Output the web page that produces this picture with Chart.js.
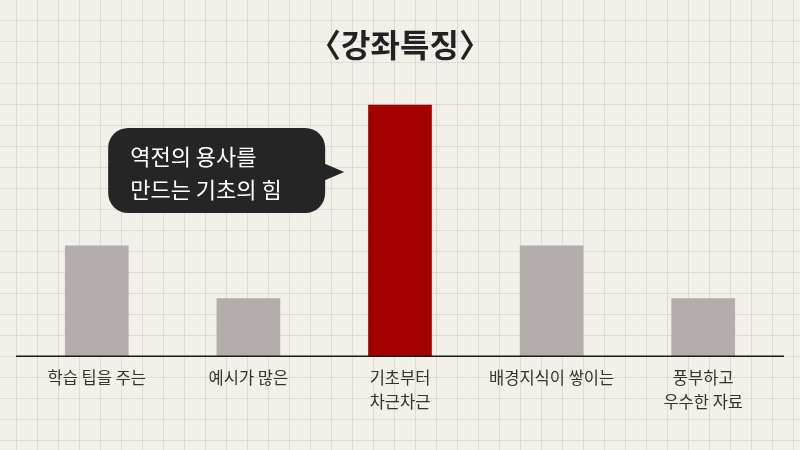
<!DOCTYPE html>
<html>
<head>
<meta charset="utf-8">
<script src="https://cdn.jsdelivr.net/npm/chart.js@4/dist/chart.umd.min.js"></script>
<style>
  html, body { margin: 0; padding: 0; background: #f3efe9; }
  #wrap { width: 800px; height: 450px; }
</style>
</head>
<body>
<div id="wrap"><canvas id="chart" width="800" height="450"></canvas></div>
<script>
// Data
const categories = [['학습 팁을 주는'], ['예시가 많은'], ['기초부터', '차근차근'], ['배경지식이 쌓이는'], ['풍부하고', '우수한 자료']];
const scores = [44, 23, 100, 44, 23];
const highlightIndex = 2;
const calloutLines = ['역전의 용사를', '만드는 기초의 힘'];

const FONT = '"Noto Sans CJK KR", "Noto Sans", sans-serif';

// Graph paper background + baseline
const paperPlugin = {
  id: 'paper',
  beforeDraw(chart) {
    const ctx = chart.ctx;
    const w = chart.width, h = chart.height;
    ctx.save();
    ctx.fillStyle = '#f3efe9';
    ctx.fillRect(0, 0, w, h);
    ctx.strokeStyle = '#e0dad4';
    ctx.lineWidth = 1;
    ctx.beginPath();
    for (let x = 16; x < w; x += 21) {
      ctx.moveTo(x + 0.5, 0);
      ctx.lineTo(x + 0.5, h);
    }
    for (let y = 20; y < h; y += 21) {
      ctx.moveTo(0, y + 0.5);
      ctx.lineTo(w, y + 0.5);
    }
    ctx.stroke();
    ctx.restore();
  },
  afterDatasetsDraw(chart) {
    const ctx = chart.ctx;
    const y = chart.scales.y.getPixelForValue(0);
    ctx.save();
    ctx.strokeStyle = '#1a1a1a';
    ctx.lineWidth = 1.5;
    ctx.beginPath();
    ctx.moveTo(16, y);
    ctx.lineTo(784, y);
    ctx.stroke();

    // speech bubble pointing at the highlighted bar
    const bar = chart.getDatasetMeta(0).data[highlightIndex];
    const tipX = bar.x - bar.width / 2 - 24;
    const bx = tipX - 236, by = 128, bw = 217, bh = 85, r = 20;
    ctx.fillStyle = '#252525';
    ctx.beginPath();
    ctx.roundRect(bx, by, bw, bh, r);
    ctx.fill();
    ctx.beginPath();
    ctx.moveTo(bx + bw - 2, 163);
    ctx.lineTo(tipX, 172);
    ctx.lineTo(bx + bw - 2, 181);
    ctx.closePath();
    ctx.fill();
    ctx.fillStyle = '#ffffff';
    ctx.font = '22px ' + FONT;
    ctx.textBaseline = 'middle';
    ctx.textAlign = 'left';
    ctx.fillText(calloutLines[0], bx + 22, 157);
    ctx.fillText(calloutLines[1], bx + 22, 190);
    ctx.restore();
  }
};

new Chart(document.getElementById('chart'), {
  type: 'bar',
  data: {
    labels: categories,
    datasets: [{
      data: scores,
      backgroundColor: scores.map((v, i) => i === highlightIndex ? '#a50000' : '#b3aeab'),
      borderWidth: 0,
      barPercentage: 0.42,
      categoryPercentage: 1
    }]
  },
  options: {
    responsive: false,
    animation: false,
    layout: { padding: { left: 21, right: 21, top: 0, bottom: 26 } },
    plugins: {
      legend: { display: false },
      tooltip: { enabled: false },
      title: {
        display: true,
        text: '〈강좌특징〉',
        color: '#222222',
        font: { family: FONT, size: 32, weight: 'bold' },
        padding: { top: 26, bottom: 40 }
      }
    },
    scales: {
      y: {
        display: false,
        min: 0,
        max: 100
      },
      x: {
        grid: { display: false, drawTicks: false },
        border: { display: false },
        ticks: {
          color: '#333333',
          padding: 10,
          font: { family: FONT, size: 16.5, lineHeight: 1.45 }
        }
      }
    }
  },
  plugins: [paperPlugin]
});
</script>
</body>
</html>
